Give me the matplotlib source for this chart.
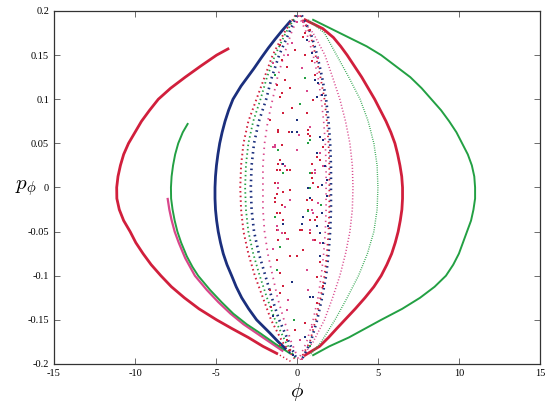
import matplotlib
matplotlib.use("Agg")
import matplotlib.pyplot as plt

plt.rcParams["font.family"] = ["Liberation Serif", "DejaVu Serif"]
plt.rcParams["mathtext.fontset"] = "cm"

RED = "#d11f3c"
PINK = "#d9478c"
BLUE = "#1b2f7d"
GREEN = "#23a043"

# p_phi levels for the right-hand outer curves
y_fine = [0.19, 0.18, 0.17, 0.16, 0.15, 0.1375, 0.125, 0.1125, 0.1, 0.0875, 0.075,
          0.0625, 0.05, 0.0375, 0.025, 0.0125, 0.0, -0.0125, -0.025, -0.0375, -0.05,
          -0.0625, -0.075, -0.0875, -0.1, -0.1125, -0.125, -0.1375, -0.15, -0.16,
          -0.17, -0.18, -0.19]
green_out_x = [1.0, 2.1, 3.2, 4.3, 5.2, 6.1, 7.0, 7.7, 8.3, 8.9, 9.4,
               9.85, 10.2, 10.55, 10.8, 10.95, 11.0, 11.0, 10.9, 10.75, 10.5,
               10.25, 10.0, 9.65, 9.2, 8.5, 7.6, 6.5, 5.2, 4.2,
               3.2, 2.0, 1.0]
red_right_x = [0.5, 1.6, 2.25, 2.7, 3.1, 3.55, 4.0, 4.4, 4.8, 5.15, 5.5,
               5.8, 6.05, 6.22, 6.36, 6.47, 6.52, 6.52, 6.48, 6.38, 6.25,
               6.07, 5.85, 5.55, 5.2, 4.75, 4.2, 3.6, 2.96, 2.45,
               1.95, 1.4, 0.5]

y_lev = [0.19, 0.175, 0.15, 0.125, 0.1, 0.075, 0.05, 0.025, 0.0,
         -0.025, -0.05, -0.075, -0.1, -0.125, -0.15, -0.175, -0.19]
green_thin_x = [0.7, 1.7, 2.45, 3.2, 3.9, 4.4, 4.75, 4.95, 5.0,
                4.95, 4.75, 4.35, 3.8, 3.1, 2.35, 1.5, 0.8]
pink_right_x = [0.3, 1.0, 1.73, 2.2, 2.65, 3.0, 3.27, 3.42, 3.46,
                3.42, 3.27, 3.0, 2.65, 2.2, 1.7, 1.0, 0.4]

# left-hand solid branches
red_left_y = [0.157, 0.15, 0.1375, 0.125, 0.1125, 0.1, 0.0875, 0.075, 0.0625, 0.05,
              0.0375, 0.025, 0.0125, 0.0, -0.0125, -0.025, -0.0375, -0.05, -0.0625,
              -0.075, -0.0875, -0.1, -0.1125, -0.125, -0.1375, -0.15, -0.16, -0.17,
              -0.18, -0.188]
red_left_x = [-4.26, -4.96, -5.95, -6.9, -7.8, -8.56, -9.1, -9.6, -10.0, -10.4,
              -10.7, -10.9, -11.05, -11.13, -11.12, -10.97, -10.7, -10.3, -9.95,
              -9.5, -9.0, -8.4, -7.75, -6.95, -6.05, -4.96, -4.0, -3.0,
              -2.1, -1.25]
green_left_y = [0.072, 0.0625, 0.05, 0.0375, 0.025, 0.0125, 0.0, -0.0125, -0.025, -0.0375,
                -0.05, -0.0625, -0.078, -0.09, -0.1, -0.116, -0.13, -0.143, -0.155,
                -0.165, -0.177, -0.188]
green_left_x = [-6.75, -7.05, -7.33, -7.52, -7.65, -7.74, -7.78, -7.77, -7.68, -7.55,
                -7.38, -7.15, -6.8, -6.45, -6.1, -5.37, -4.65, -3.93, -3.1,
                -2.28, -1.35, -0.43]
pink_left_y = [-0.013, -0.025, -0.037, -0.05, -0.0625, -0.08, -0.1, -0.116, -0.13,
               -0.143, -0.155, -0.165, -0.175, -0.185]
pink_left_x = [-7.98, -7.88, -7.74, -7.55, -7.3, -6.9, -6.3, -5.57, -4.85,
               -4.1, -3.3, -2.5, -1.7, -0.9]
blue_left_y = [0.188, 0.177, 0.168, 0.158, 0.147, 0.135, 0.125, 0.115, 0.1, 0.0875,
               0.075, 0.0625, 0.05, 0.0375, 0.025, 0.0125, 0.0, -0.0125, -0.025,
               -0.0375, -0.05, -0.0625, -0.075, -0.0875, -0.1, -0.1125, -0.125,
               -0.1375, -0.15, -0.165, -0.175, -0.182]
blue_left_x = [-0.43, -0.95, -1.35, -1.77, -2.2, -2.65, -3.05, -3.45, -3.95, -4.22,
               -4.44, -4.62, -4.77, -4.88, -4.97, -5.03, -5.06, -5.06, -5.03,
               -4.96, -4.86, -4.72, -4.55, -4.32, -4.03, -3.75, -3.41,
               -2.98, -2.49, -1.67, -1.15, -0.74]

# inner dotted orbits (left edge, right edge)
y_in = [0.195, 0.175, 0.15, 0.125, 0.1, 0.075, 0.05, 0.025, 0.0,
        -0.025, -0.05, -0.075, -0.1, -0.125, -0.15, -0.175, -0.195]
red_in_l = [-0.1, -0.8, -1.5, -2.0, -2.5, -3.0, -3.3, -3.45, -3.5,
            -3.45, -3.3, -3.0, -2.6, -2.1, -1.6, -0.9, -0.1]
green_in_l = [-0.05, -0.7, -1.35, -1.85, -2.25, -2.7, -3.0, -3.15, -3.2,
              -3.15, -3.0, -2.7, -2.3, -1.85, -1.35, -0.7, -0.05]
blue_in_l = [0.0, -0.5, -1.1, -1.55, -1.9, -2.35, -2.65, -2.8, -2.85,
             -2.8, -2.65, -2.35, -1.95, -1.55, -1.1, -0.5, 0.0]
pink_in_l = [0.1, -0.35, -0.8, -1.2, -1.5, -1.8, -2.0, -2.1, -2.1,
             -2.1, -2.0, -1.8, -1.5, -1.2, -0.8, -0.35, 0.1]
blue_in_r = [0.3, 0.85, 1.25, 1.55, 1.8, 1.95, 2.05, 2.1, 2.1,
             2.1, 2.05, 1.95, 1.8, 1.55, 1.25, 0.85, 0.3]
red_in_r = [0.2, 0.8, 1.15, 1.45, 1.7, 1.85, 1.95, 2.0, 2.0,
            2.0, 1.95, 1.85, 1.7, 1.45, 1.15, 0.8, 0.2]
pink_in_r = [0.1, 0.6, 1.0, 1.3, 1.5, 1.65, 1.75, 1.8, 1.8,
             1.8, 1.75, 1.65, 1.5, 1.3, 1.0, 0.6, 0.1]

# chaotic points in the centre
red_px = [0.49, 0.80, -0.12, -1.05, 0.49, 0.9, -0.63, 1.11, -0.74, -0.43, -0.95, -1.25,
          -1.05, -0.84, -1.15, 1.01, 0.6, -1.05, -0.64, 0.9, -0.43, -1.25, -1.67, 1.22,
          -1.05, -0.74, 0.8, -1.25, -0.02, -1.05, 1.22, -0.84, 1.63, -1.67, 0.29,
          -1.05, 1.22, 0.5, -0.12, -0.64, -0.43, -1.05, 1.63,
          -1.15, -1.15, -1.25, -0.43, -1.36, -1.36, -0.95, -1.25, -1.15, -0.53,
          0.9, 1.01, 1.32, 0.9, 1.22, 1.11, 0.7, -1.6, 0.35, -0.3, 1.4, -0.9,
          -0.50, 0.70, 0.80, -0.95, -1.05, 0.9, 1.42, -0.84, -1.36, 0.6, 0.7,
          -1.25, -0.84, 1.11, 0.19, 0.8, -1.05, 0.39, -0.43]
red_py = [0.175, 0.178, 0.156, 0.162, 0.150, 0.143, 0.137, 0.128, 0.122, 0.113, 0.107, 0.116,
          0.103, 0.084, 0.065, 0.099, 0.084, 0.031, 0.020, 0.016, -0.003, -0.007, 0.076, 0.035,
          -0.029, -0.052, -0.037, -0.082, -0.078, -0.097, -0.101, -0.112, -0.112, -0.116, -0.048,
          -0.120, -0.131, -0.154, -0.161, -0.173, -0.184, -0.178, 0.046,
          0.063, 0.027, 0.020, 0.020, 0.005, -0.016, -0.020, -0.048, -0.060, -0.058,
          0.027, 0.005, 0.001, -0.014, -0.033, -0.060, 0.061, -0.135, 0.17, 0.09, -0.085, 0.145,
          0.063, 0.065, 0.058, 0.048, 0.020, 0.011, 0.031, -0.005, -0.012, -0.014, -0.025,
          -0.029, -0.037, -0.037, -0.048, -0.052, -0.067, -0.071, -0.078]
pink_px = [-0.02, 0.39, -0.33, -0.53, 1.3, 0.29, 0.6, -1.46, 0.8, -0.02, -1.46, 1.63,
           -1.25, 1.01, 0.6, 0.7, -0.53, 0.9, -0.64, 0.9, 0.18, 0.29,
           -1.36, -0.95, -0.74, -1.15, -0.74, -0.95, 1.11, 1.32, 0.8, 1.42, -1.5, 0.1,
           -0.95, -1.36, 1.11, -1.15, -0.43, 1.01, -1.15, -0.64, 1.42]
pink_py = [0.188, 0.188, 0.164, 0.150, 0.147, 0.135, 0.109, 0.141, 0.069, 0.042, 0.046, 0.024,
           -0.044, -0.060, -0.093, -0.116, -0.127, -0.025, -0.139, -0.158, -0.173, -0.194,
           0.048, 0.027, 0.024, -0.001, -0.022, -0.052, 0.016, -0.018, -0.048, 0.039, -0.07, 0.06,
           0.027, 0.046, 0.020, 0.005, -0.014, -0.029, -0.048, -0.058, -0.063]
blue_px = [0.60, 0.9, 1.11, 1.3, 1.52, -0.02, -0.33, -0.84, 1.42, 1.83, -0.84, 1.42,
           1.42, -0.33, 1.01, 0.8, -1.46, 0.5, -0.23, 1.21,
           0.7, 1.52, 0.29, 1.63, 1.63, 1.73, 1.83, 1.93,
           0.03, -0.84, 1.21, 1.52, 0.8, 0.39, 1.21]
blue_py = [0.167, 0.152, 0.122, 0.118, 0.105, 0.076, 0.063, 0.027, 0.057, 0.008, -0.041, -0.052,
           -0.078, -0.107, -0.124, -0.124, -0.146, -0.169, -0.190, 0.103,
           -0.001, -0.029, -0.041, -0.063, 0.054, 0.024, -0.010, -0.044,
           0.063, 0.027, 0.039, 0.003, -0.012, -0.033, -0.044]
green_px = [0.49, -1.36, 0.8, 0.8, -0.84, -1.05, -1.25, 0.8, 0.2, 1.5, -0.2,
            -1.15, -1.36, 0.7, 0.7, 0.80]
green_py = [0.124, 0.128, 0.054, -0.001, 0.016, -0.067, -0.093, -0.180, 0.095, -0.02, -0.15,
            0.043, -0.033, 0.050, -0.027, 0.016]

xticks = [-15, -10, -5, 0, 5, 10, 15]
yticks = [-0.2, -0.15, -0.1, -0.05, 0, 0.05, 0.1, 0.15, 0.2]
ytick_labels = ["-0.2", "-0.15", "-0.1", "-0.05", "0", "0.05", "0.1", "0.15", "0.2"]

fig = plt.figure(figsize=(5.54, 4.07), dpi=100)
ax = fig.add_axes([0.0975, 0.1057, 0.877, 0.8673])

dot = (0, (0.8, 1.6))

# outer curves
ax.plot(green_out_x, y_fine, color=GREEN, lw=1.4)
ax.plot(red_right_x, y_fine, color=RED, lw=2.0)
ax.plot(green_thin_x, y_lev, color=GREEN, lw=1.0, ls=(0, (0.6, 1.0)))
ax.plot(pink_right_x, y_lev, color=PINK, lw=1.1, ls=(0, (0.7, 1.3)))
ax.plot(red_left_x, red_left_y, color=RED, lw=2.0)
ax.plot([red_left_x[-1], -0.3], [red_left_y[-1], -0.198], color=RED, lw=1.1, ls=dot)
ax.plot(pink_left_x, pink_left_y, color=PINK, lw=1.6)
ax.plot(green_left_x, green_left_y, color=GREEN, lw=1.4)
ax.plot(blue_left_x, blue_left_y, color=BLUE, lw=2.0)
ax.plot([blue_left_x[-1], -0.25], [blue_left_y[-1], -0.19], color=BLUE, lw=1.6, ls=dot)

# inner dotted orbits
ax.plot(red_in_l, y_in, color=RED, lw=1.4, ls=dot)
ax.plot(green_in_l, y_in, color=GREEN, lw=1.3, ls=dot)
ax.plot(blue_in_l, y_in, color=BLUE, lw=1.9, ls=(0, (0.6, 1.5)))
ax.plot(pink_in_l, y_in, color=PINK, lw=1.3, ls=(0, (0.8, 2.5)))
ax.plot(blue_in_r, y_in, color=BLUE, lw=1.9, ls=(0, (0.6, 1.5)))
ax.plot(red_in_r, y_in, color=RED, lw=1.3, ls=(0, (0.8, 2.2)))
ax.plot(pink_in_r, y_in, color=PINK, lw=1.2, ls=(0, (0.8, 2.5)))

# chaotic scatter
ax.plot(red_px, red_py, "s", color=RED, ms=1.8, mew=0)
ax.plot(pink_px, pink_py, "s", color=PINK, ms=1.8, mew=0)
ax.plot(green_px, green_py, "s", color=GREEN, ms=1.6, mew=0)
ax.plot(blue_px, blue_py, "s", color=BLUE, ms=2.0, mew=0)

ax.set_xlim(-15, 15)
ax.set_ylim(-0.2, 0.2)
ax.set_xticks(xticks)
ax.set_xticklabels([str(t) for t in xticks])
ax.set_yticks(yticks)
ax.set_yticklabels(ytick_labels)
ax.tick_params(direction="in", top=True, right=True, length=4, width=0.6,
               labelsize=7.5, color="#555555")
for s in ax.spines.values():
    s.set_linewidth(0.9)
    s.set_color("#333333")

ax.set_xlabel(r"$\phi$", fontsize=15, labelpad=2)
ax.set_ylabel(r"$p_\phi$", fontsize=15, rotation=0)
ax.yaxis.set_label_coords(-0.058, 0.47)

fig.savefig("out.png", dpi=100)
